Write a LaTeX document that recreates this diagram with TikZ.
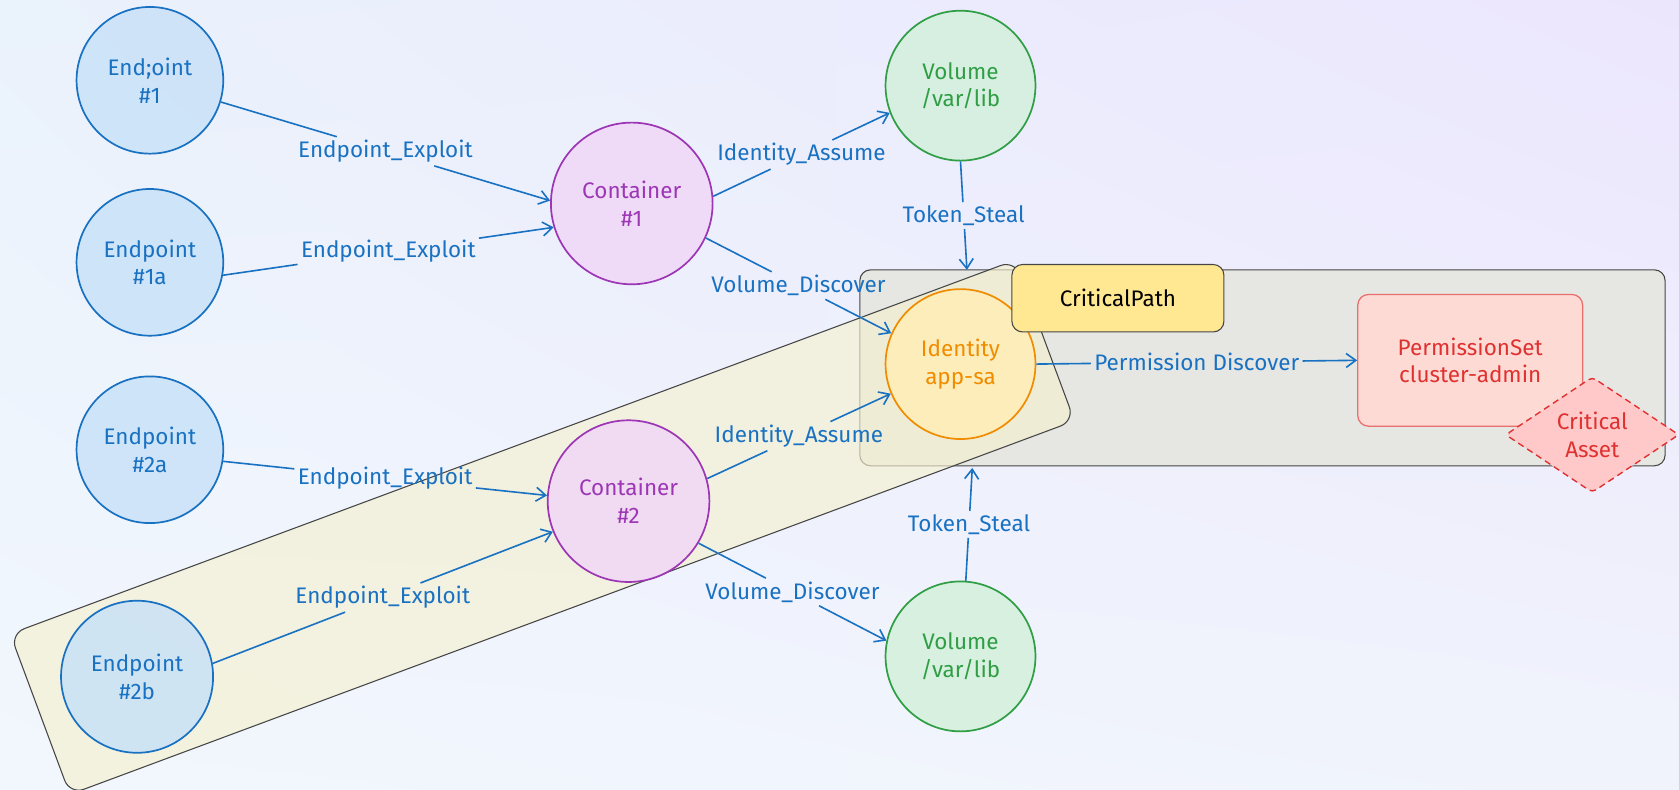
\documentclass[tikz,border=0pt]{standalone}
\usepackage{fontspec}
\setmainfont{Fira Sans}
\usetikzlibrary{arrows.meta,shapes.geometric,shadings}
\definecolor{cblue}{RGB}{25,113,194}
\definecolor{cpurple}{RGB}{156,54,181}
\definecolor{cgreen}{RGB}{47,158,68}
\definecolor{corange}{RGB}{240,140,0}
\definecolor{cred}{RGB}{224,49,49}
\definecolor{fblue}{RGB}{200,225,248}
\definecolor{fpurple}{RGB}{240,215,247}
\definecolor{fgreen}{RGB}{210,240,218}
\definecolor{forange}{RGB}{255,238,180}
\definecolor{fred}{RGB}{255,201,201}
\definecolor{fpink}{RGB}{253,218,212}
\definecolor{fyellow}{RGB}{255,232,145}
\definecolor{cdark}{RGB}{70,70,70}
\definecolor{bandfill}{RGB}{245,240,208}
\definecolor{grayfill}{RGB}{228,228,216}
\definecolor{bgUL}{RGB}{234,242,252}
\definecolor{bgUR}{RGB}{236,230,253}
\definecolor{bgLL}{RGB}{242,247,253}
\definecolor{bgLR}{RGB}{240,243,252}
\begin{document}
\begin{tikzpicture}[x=1pt,y=-1pt,
  every node/.style={font=\fontsize{21}{26}\selectfont},
  circbase/.style={circle,line width=1.6pt,inner sep=0pt,align=center,fill opacity=0.82,text opacity=1,draw opacity=1},
  ep/.style={circbase,draw=cblue,fill=fblue,text=cblue,minimum size=137pt},
  ct/.style={circbase,draw=cpurple,fill=fpurple,text=cpurple,minimum size=151pt},
  vol/.style={circbase,draw=cgreen,fill=fgreen,text=cgreen,minimum size=140pt},
  idn/.style={circbase,draw=corange,fill=forange,text=corange,minimum size=140pt},
  psbox/.style={rectangle,rounded corners=10pt,draw=cred!70,fill=fpink,text=cred,line width=1.2pt,minimum width=210pt,minimum height=123pt,align=center},
  lbl/.style={text=cblue,inner sep=3pt},
  edgeln/.style={draw=cblue,line width=1.5pt},
  arr/.style={edgeln,-{Straight Barb[length=9pt,width=13pt]}},
  grp/.style={rectangle,rounded corners=10pt,draw=cdark,line width=1pt,fill=grayfill,fill opacity=0.7,draw opacity=1,minimum width=752pt,minimum height=183pt},
  bandst/.style={rectangle,rounded corners=14pt,draw=cdark,line width=1pt,fill=bandfill,fill opacity=0.65,draw opacity=1,minimum width=1001pt,minimum height=160pt},
  cpl/.style={rectangle,rounded corners=10pt,draw=cdark,line width=1pt,fill=fyellow,text=black,minimum width=198pt,minimum height=63pt},
  dia/.style={diamond,aspect=1.5,draw=cred,fill=fred,text=cred,line width=1.3pt,dash pattern=on 6pt off 4pt,minimum width=162pt,minimum height=108pt,inner sep=0pt,align=center,rounded corners=4pt}
]
\useasboundingbox (0,0) rectangle (1568,737);
\shade[upper left=bgUL,upper right=bgUR,lower left=bgLL,lower right=bgLR] (0,0) rectangle (1568,737);

% group overlays (behind)
\node[grp] (cp) at (1179,343.5) {};
\node[bandst,rotate=20.4] (band) at (506.5,492.5) {};

% nodes
\node[ep] (e1) at (140,75) {End;oint\\\#1};
\node[ep] (e1a) at (140,245) {Endpoint\\\#1a};
\node[ep] (e2a) at (140,420) {Endpoint\\\#2a};
\node[ep,minimum size=142pt] (e2b) at (128,632) {Endpoint\\\#2b};
\node[ct] (c1) at (590,190) {Container\\\#1};
\node[ct] (c2) at (587,468) {Container\\\#2};
\node[vol] (v1) at (897,80) {Volume\\/var/lib};
\node[vol] (v2) at (897,613) {Volume\\/var/lib};
\node[idn] (id) at (897,340) {Identity\\app-sa};
\node[psbox] (ps) at (1373,336.5) {PermissionSet\\cluster-admin};
\coordinate (t1) at (903,252);
\coordinate (t2) at (908,437);

% edges with labels
\path (e1.-17) -- node[lbl] (l1) {Endpoint\_Exploit} (c1.178);
\draw[edgeln] (e1.-17) -- (l1); \draw[arr] (l1) -- (c1.178);
\path (e1a.-10) -- node[lbl] (l2) {Endpoint\_Exploit} (c1.197);
\draw[edgeln] (e1a.-10) -- (l2); \draw[arr] (l2) -- (c1.197);
\path (e2a.-9) -- node[lbl] (l3) {Endpoint\_Exploit} (c2.176);
\draw[edgeln] (e2a.-9) -- (l3); \draw[arr] (l3) -- (c2.176);
\path (e2b.10) -- node[lbl] (l4) {Endpoint\_Exploit} (c2.202);
\draw[edgeln] (e2b.10) -- (l4); \draw[arr] (l4) -- (c2.202);
\path (c1.5) -- node[lbl] (l5) {Identity\_Assume} (v1.201);
\draw[edgeln] (c1.5) -- (l5); \draw[arr] (l5) -- (v1.201);
\path (c1.-25) -- node[lbl] (l6) {Volume\_Discover} (id.156);
\draw[edgeln] (c1.-25) -- (l6); \draw[arr] (l6) -- (id.156);
\path (v1.south) -- node[lbl] (l7) {Token\_Steal} (t1);
\draw[edgeln] (v1.south) -- (l7); \draw[arr] (l7) -- (t1);
\path (c2.16) -- node[lbl] (l8) {Identity\_Assume} (id.203);
\draw[edgeln] (c2.16) -- (l8); \draw[arr] (l8) -- (id.203);
\path (c2.-31) -- node[lbl] (l9) {Volume\_Discover} (v2.168);
\draw[edgeln] (c2.-31) -- (l9); \draw[arr] (l9) -- (v2.168);
\path (v2.86) -- node[lbl] (l10) {Token\_Steal} (t2);
\draw[edgeln] (v2.86) -- (l10); \draw[arr] (l10) -- (t2);
\path (id.east) -- node[lbl] (l11) {Permission Discover} (ps.west);
\draw[edgeln] (id.east) -- (l11); \draw[arr] (l11) -- (ps.west);

% labels on top
\node[cpl] (cpl) at (1044,278.5) {CriticalPath};
\node[dia] (ca) at (1487,406) {Critical\\Asset};
\end{tikzpicture}
\end{document}
